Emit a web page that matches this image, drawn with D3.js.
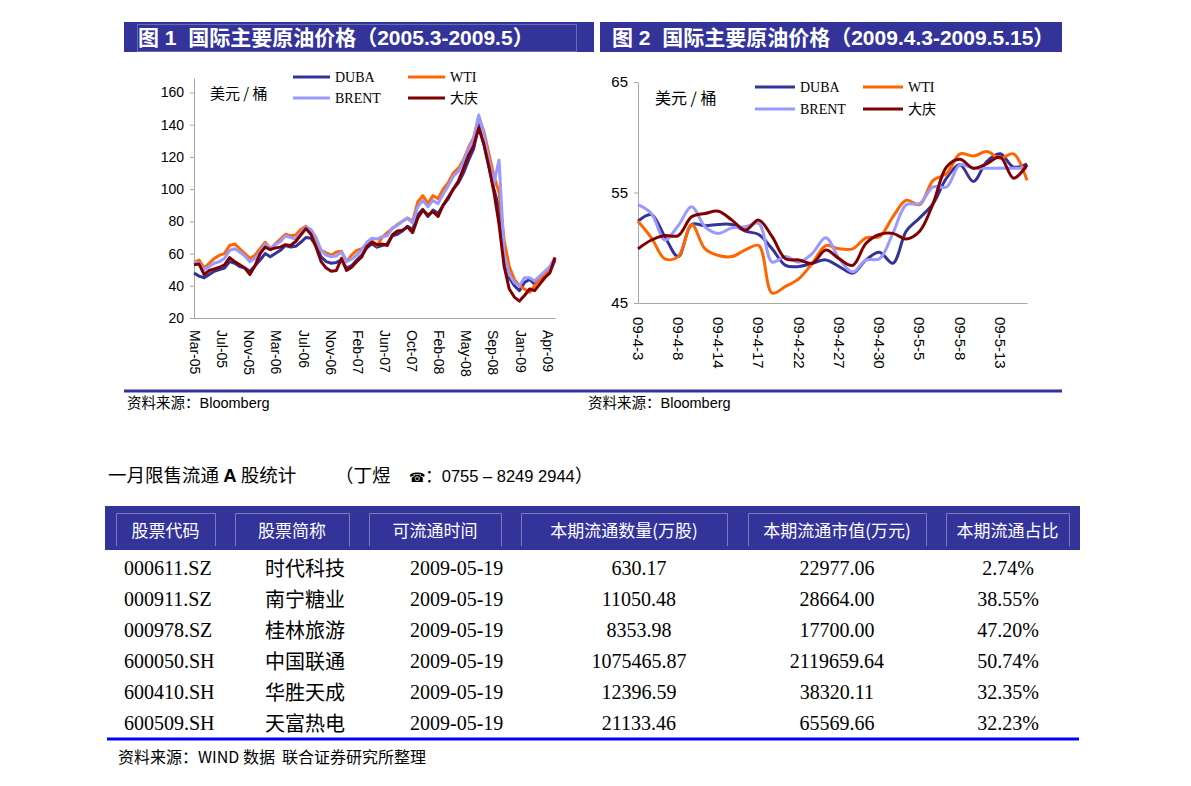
<!DOCTYPE html>
<html>
<head>
<meta charset="utf-8">
<script src="https://cdn.jsdelivr.net/npm/d3@7"></script>
<style>
  body { margin: 0; background: #fff; }
  svg { display: block; }
</style>
</head>
<body>
<div id="page"></div>
<script>
// ---------------------------
// Data
// ---------------------------
const seriesNames = ["DUBA", "WTI", "BRENT", "大庆"];
const seriesColors = ["#333399", "#ff6600", "#9999ff", "#800000"];

// Figure 1: one sample every 15 trading days, Mar-05 .. May-09
const leftDuba = [48, 46, 45, 47, 49, 50, 51, 55, 54, 52,
  51, 49, 52.5, 56, 60, 58, 60, 62, 65, 64,
  64.5, 67, 70, 69.5, 65, 58, 55, 54, 54.5, 56,
  51, 52.5, 56, 59, 63.5, 66, 64, 65, 66, 71,
  72, 74, 77, 75, 84, 87.5, 83, 87, 85, 90,
  94, 100, 104, 110, 118, 125, 140, 128, 114, 100,
  88, 60, 45, 40, 37, 42, 44, 41, 44, 46,
  49, 56];
const leftWti = [54.5, 56, 51, 54, 57, 59, 60, 65, 66, 63,
  60, 57, 59, 63, 67, 63, 66, 69, 72, 71,
  71.5, 75, 77, 74, 68, 62, 60.5, 59, 61, 61.5,
  55, 59, 62, 63, 66, 68, 65, 70, 73, 75.5,
  78, 80, 82, 80, 92, 96, 91, 96, 94, 100,
  104, 110, 113, 118, 126, 132, 145, 136, 122, 108,
  98, 68, 52, 44, 40, 38, 36, 40, 44, 47,
  50, 57];
const leftBrent = [55, 54, 50, 52, 54, 55, 57, 62, 63, 61,
  58.5, 55, 57, 61, 66, 63, 65.5, 67.5, 71, 70,
  69, 73, 76.5, 75, 70, 62, 59, 58, 58.5, 61,
  55, 56.5, 59, 62.5, 67, 69.5, 69, 70.5, 71, 76,
  77.5, 80, 82, 79, 89, 93, 89, 93, 91, 97,
  102, 108, 111, 117, 125, 131, 146, 134, 118, 104,
  118, 60, 47, 42, 40, 45, 45, 43, 46, 49,
  52, 57.5];
const leftDaqing = [53, 53.5, 47, 49.5, 50.5, 51.5, 53, 57.5, 55, 53,
  51, 47, 52.5, 60, 64, 62.5, 63.5, 64, 65.5, 65,
  67.5, 71.5, 75.5, 72, 64, 55, 51, 49, 49.5, 57,
  49.5, 51.5, 55, 58, 64.5, 67, 65.5, 66, 65, 71.5,
  74, 74.5, 76.5, 73, 82, 87, 84, 86, 83, 90,
  95, 100, 105, 113, 121, 127, 138, 128, 114, 98,
  78, 52, 38, 33, 30.5, 34, 38, 37, 41, 45,
  48, 57.5];
const leftStepDays = 15;     // trading days between samples
const leftLabelDays = 80;    // trading days between axis labels
const leftLabelStart = 3;
const leftTickLabels = ["Mar-05", "Jul-05", "Nov-05", "Mar-06", "Jul-06", "Nov-06", "Feb-07",
  "Jun-07", "Oct-07", "Feb-08", "May-08", "Sep-08", "Jan-09", "Apr-09"];
const leftYTicks = [20, 40, 60, 80, 100, 120, 140, 160];

// Figure 2: daily, 2009-04-03 .. 2009-05-15
const rightDates = ["09-4-3", "09-4-6", "09-4-7", "09-4-8", "09-4-9", "09-4-13", "09-4-14", "09-4-15",
  "09-4-16", "09-4-17", "09-4-20", "09-4-21", "09-4-22", "09-4-23", "09-4-24", "09-4-27", "09-4-28",
  "09-4-29", "09-4-30", "09-5-1", "09-5-4", "09-5-5", "09-5-6", "09-5-7", "09-5-8", "09-5-11",
  "09-5-12", "09-5-13", "09-5-14", "09-5-15"];
const rightDuba = [52.4, 53.0, 51.0, 49.2, 52.1, 52.0, 52.1, 52.1, 51.5, 51.2,
  49.9, 48.4, 48.3, 48.6, 48.9, 48.3, 47.7, 48.9, 49.6, 48.6,
  51.5, 52.7, 54.0, 56.3, 57.5, 56.0, 57.8, 58.5, 57.3, 57.6];
const rightWti = [52.4, 50.9, 49.0, 49.2, 52.1, 49.9, 49.3, 49.2, 49.8, 50.2,
  45.9, 46.5, 47.2, 48.6, 50.2, 49.9, 49.9, 50.9, 51.0, 52.8,
  54.3, 53.9, 56.1, 56.7, 58.5, 58.3, 58.7, 58.1, 58.5, 56.1];
const rightBrent = [53.9, 53.1, 50.7, 52.0, 53.7, 51.9, 51.3, 51.8, 51.9, 52.2,
  48.7, 49.2, 48.7, 49.5, 50.9, 49.0, 47.8, 48.9, 49.0, 51.3,
  53.9, 54.0, 55.5, 55.5, 57.5, 57.2, 57.2, 57.2, 57.2, 57.2];
const rightDaqing = [49.9, 50.7, 51.1, 51.1, 52.8, 53.1, 53.3, 52.5, 51.6, 52.5,
  51.0, 49.0, 48.9, 48.6, 49.8, 49.0, 48.4, 50.4, 51.2, 51.3,
  50.8, 51.5, 54.0, 57.3, 58.0, 57.2, 57.6, 58.2, 56.3, 57.5];
const rightLabelEvery = 3;
const rightYTicks = [45, 55, 65];

// Table
const tableHeaders = ["股票代码", "股票简称", "可流通时间", "本期流通数量(万股)", "本期流通市值(万元)", "本期流通占比"];
const stockCodes = ["000611.SZ", "000911.SZ", "000978.SZ", "600050.SH", "600410.SH", "600509.SH"];
const stockNames = ["时代科技", "南宁糖业", "桂林旅游", "中国联通", "华胜天成", "天富热电"];
const listDates = ["2009-05-19", "2009-05-19", "2009-05-19", "2009-05-19", "2009-05-19", "2009-05-19"];
const shareCounts = ["630.17", "11050.48", "8353.98", "1075465.87", "12396.59", "21133.46"];
const marketValues = ["22977.06", "28664.00", "17700.00", "2119659.64", "38320.11", "65569.66"];
const ratios = ["2.74%", "38.55%", "47.20%", "50.74%", "32.35%", "32.23%"];

// ---------------------------
// Setup
// ---------------------------
const SANS = '"Liberation Sans", Arial, "Noto Sans CJK SC", sans-serif';
const CJK = '"Noto Sans CJK SC", sans-serif';
const SERIF = '"Liberation Serif", "Times New Roman", "Noto Sans CJK SC", serif';
const NAVY = "#333399";
const AXIS = "#a6a6a6";

const svg = d3.select("#page").append("svg")
  .attr("width", 1191)
  .attr("height", 786);

// ---------------------------
// Title bars
// ---------------------------
const titleBars = [
  { x: 124, w: 470, tx: 138, text: "图 1  国际主要原油价格（2005.3-2009.5）" },
  { x: 600, w: 462, tx: 612, text: "图 2  国际主要原油价格（2009.4.3-2009.5.15）" }
];
titleBars.forEach(b => {
  svg.append("rect").attr("x", b.x).attr("y", 22).attr("width", b.w).attr("height", 30).attr("fill", NAVY);
  svg.append("text")
    .attr("x", b.tx).attr("y", 45)
    .attr("fill", "#fff")
    .attr("font-family", SANS)
    .attr("font-weight", "bold")
    .attr("font-size", 21)
    .style("white-space", "pre")
    .text(b.text);
});
svg.append("rect").attr("x", 137.5).attr("y", 24.5).attr("width", 439).attr("height", 27)
  .attr("fill", "none").attr("stroke", "#6a6ab0").attr("stroke-width", 1);

// ---------------------------
// Shared helpers
// ---------------------------
function styleAxis(g, size) {
  g.selectAll("path").attr("stroke", AXIS);
  g.selectAll("line").attr("stroke", AXIS);
  g.selectAll("text").attr("font-family", SANS).attr("font-size", size).attr("fill", "#000");
}

function drawLegend(x0, y0, colGap, rowGap, lineLen) {
  const legend = svg.append("g").attr("transform", `translate(${x0},${y0})`);
  const item = legend.selectAll("g")
    .data(seriesNames.map((n, i) => ({ name: n, color: seriesColors[i], i })))
    .join("g")
    .attr("transform", d => `translate(${(d.i % 2) * colGap},${Math.floor(d.i / 2) * rowGap})`);
  item.append("line")
    .attr("x1", 0).attr("x2", lineLen)
    .attr("stroke", d => d.color).attr("stroke-width", 3);
  item.append("text")
    .attr("x", lineLen + 5).attr("y", 5)
    .attr("font-family", SERIF).attr("font-size", 14)
    .text(d => d.name);
}

// ---------------------------
// Figure 1
// ---------------------------
const leftSeries = [leftDuba, leftWti, leftBrent, leftDaqing];
const leftX = d3.scaleLinear().domain([0, leftDaqing.length - 1]).range([194, 555]);
const leftY = d3.scaleLinear().domain([20, 169]).range([318, 78]);

const gLeft = svg.append("g");
gLeft.append("g")
  .attr("transform", "translate(194,0)")
  .call(d3.axisLeft(leftY).tickValues(leftYTicks).tickSize(4).tickSizeOuter(0).tickPadding(6))
  .call(g => styleAxis(g, 14));
gLeft.append("g")
  .attr("transform", "translate(0,318)")
  .call(d3.axisBottom(leftX).tickValues([]).tickSizeOuter(0))
  .call(g => styleAxis(g, 14));

gLeft.selectAll("text.xl")
  .data(leftTickLabels)
  .join("text")
  .attr("class", "xl")
  .attr("transform", (d, k) => `translate(${leftX((leftLabelStart + k * leftLabelDays) / leftStepDays)},330) rotate(90)`)
  .attr("dy", "0.35em")
  .attr("font-family", SANS)
  .attr("font-size", 14)
  .text(d => d);

const leftLine = d3.line().x((d, i) => leftX(i)).y(d => leftY(d));
gLeft.selectAll("path.series")
  .data(leftSeries)
  .join("path")
  .attr("class", "series")
  .attr("fill", "none")
  .attr("stroke", (d, i) => seriesColors[i])
  .attr("stroke-width", 3)
  .attr("stroke-linejoin", "round")
  .attr("d", leftLine);

svg.append("text").attr("x", 210).attr("y", 99)
  .attr("font-family", CJK).attr("font-size", 15).style("white-space", "pre")
  .text("美元 / 桶");
drawLegend(293, 77, 115, 21, 37);

// ---------------------------
// Figure 2
// ---------------------------
const rightSeries = [rightDuba, rightWti, rightBrent, rightDaqing];
const rightX = d3.scalePoint().domain(rightDates).range([638, 1027]);
const rightY = d3.scaleLinear().domain([45, 65]).range([303, 82]);

const gRight = svg.append("g");
gRight.append("g")
  .attr("transform", "translate(638,0)")
  .call(d3.axisLeft(rightY).tickValues(rightYTicks).tickSize(4).tickSizeOuter(0).tickPadding(6))
  .call(g => styleAxis(g, 15));
gRight.append("g")
  .attr("transform", "translate(0,303)")
  .call(d3.axisBottom(rightX).tickValues([]).tickSizeOuter(0))
  .call(g => styleAxis(g, 15));

gRight.selectAll("text.xl")
  .data(rightDates.filter((d, i) => i % rightLabelEvery === 0))
  .join("text")
  .attr("class", "xl")
  .attr("transform", d => `translate(${rightX(d)},317) rotate(90)`)
  .attr("dy", "0.35em")
  .attr("font-family", SANS)
  .attr("font-size", 15)
  .text(d => d);

const rightLine = d3.line()
  .x((d, i) => rightX(rightDates[i]))
  .y(d => rightY(d))
  .curve(d3.curveCatmullRom);
gRight.selectAll("path.series")
  .data(rightSeries)
  .join("path")
  .attr("class", "series")
  .attr("fill", "none")
  .attr("stroke", (d, i) => seriesColors[i])
  .attr("stroke-width", 3)
  .attr("d", rightLine);

svg.append("text").attr("x", 655).attr("y", 104)
  .attr("font-family", CJK).attr("font-size", 16).style("white-space", "pre")
  .text("美元 / 桶");
drawLegend(755, 87, 108, 22, 40);

// ---------------------------
// Sources under the charts
// ---------------------------
svg.append("line").attr("x1", 124).attr("x2", 1062).attr("y1", 391).attr("y2", 391)
  .attr("stroke", NAVY).attr("stroke-width", 3);
[127, 588].forEach(x => {
  svg.append("text").attr("x", x).attr("y", 408)
    .attr("font-family", SANS).attr("font-size", 14.5)
    .text("资料来源：Bloomberg");
});

// ---------------------------
// Table heading
// ---------------------------
const heading = svg.append("text").attr("x", 108).attr("y", 482)
  .attr("font-family", CJK).attr("font-size", 18.5).style("white-space", "pre");
heading.append("tspan").text("一月限售流通 ");
heading.append("tspan").attr("font-family", SANS).attr("font-weight", "bold").text("A");
heading.append("tspan").text(" 股统计");
svg.append("text").attr("x", 335).attr("y", 482)
  .attr("font-family", CJK).attr("font-size", 18.5).text("（丁煜");
const phone = svg.append("text").attr("x", 409).attr("y", 482)
  .attr("font-family", SANS).attr("font-size", 16.5).style("white-space", "pre");
phone.append("tspan").attr("font-family", '"DejaVu Sans", sans-serif').attr("font-size", 13).text("☎");
phone.append("tspan").attr("font-family", CJK).text("：");
phone.append("tspan").text("0755 – 8249 2944");
phone.append("tspan").attr("font-family", CJK).attr("font-size", 18.5).text("）");

// ---------------------------
// Table
// ---------------------------
const headerBoxes = [[116, 215], [235, 349], [369, 501], [521, 727], [748, 926], [946, 1069]];
svg.append("rect").attr("x", 105).attr("y", 506).attr("width", 975).attr("height", 44).attr("fill", NAVY);
headerBoxes.forEach(([a, b], i) => {
  svg.append("path")
    .attr("d", `M${a + 0.5},546 V${513.5} H${b + 0.5} V546`)
    .attr("fill", "none").attr("stroke", "#7b7bc0").attr("stroke-width", 1);
  svg.append("text")
    .attr("x", (a + b) / 2).attr("y", 529)
    .attr("text-anchor", "middle").attr("dominant-baseline", "central")
    .attr("font-family", CJK).attr("font-size", 17).attr("fill", "#fff")
    .text(tableHeaders[i]);
});

const columns = [
  { values: stockCodes, x: 124, anchor: "start", font: SERIF },
  { values: stockNames, x: 265, anchor: "start", font: CJK },
  { values: listDates, x: 410, anchor: "start", font: SERIF },
  { values: shareCounts, x: 639, anchor: "middle", font: SERIF },
  { values: marketValues, x: 837, anchor: "middle", font: SERIF },
  { values: ratios, x: 1008, anchor: "middle", font: SERIF }
];
const rowY = d3.scaleLinear().domain([0, stockCodes.length - 1]).range([567.5, 722.5]);
columns.forEach(c => {
  svg.append("g").selectAll("text")
    .data(c.values)
    .join("text")
    .attr("x", c.x)
    .attr("y", (d, i) => rowY(i))
    .attr("dominant-baseline", "central")
    .attr("text-anchor", c.anchor)
    .attr("font-family", c.font)
    .attr("font-size", 20)
    .text(d => d);
});

svg.append("line").attr("x1", 107).attr("x2", 1079).attr("y1", 739).attr("y2", 739)
  .attr("stroke", "#0000ff").attr("stroke-width", 3);
svg.append("text").attr("x", 118).attr("y", 763)
  .attr("font-family", CJK).attr("font-size", 16).style("white-space", "pre")
  .text("资料来源：WIND 数据  联合证券研究所整理");
</script>
</body>
</html>
